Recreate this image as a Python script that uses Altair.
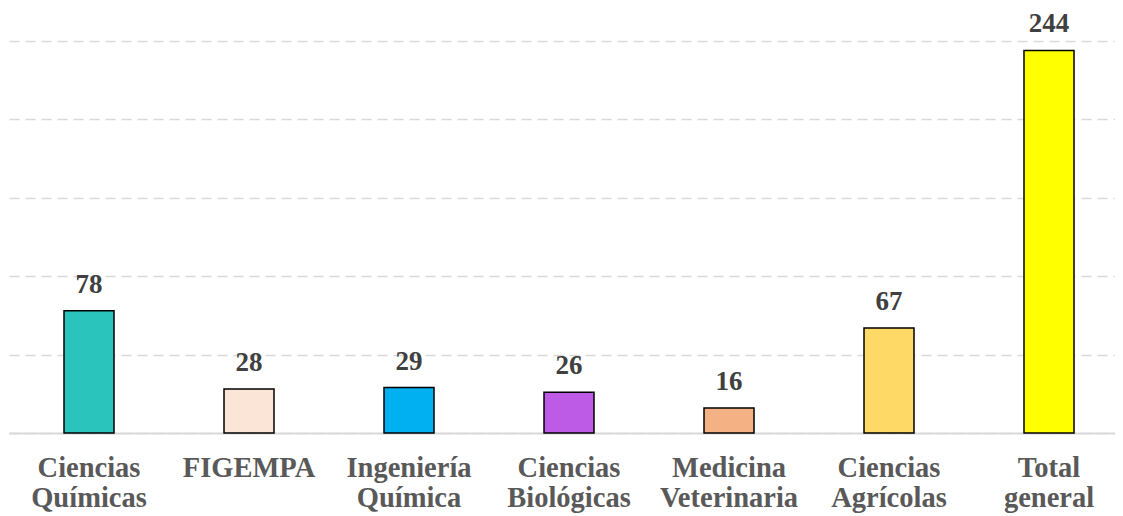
import altair as alt
import pandas as pd

categories = ["Ciencias Químicas", "FIGEMPA", "Ingeniería Química", "Ciencias Biológicas",
              "Medicina Veterinaria", "Ciencias Agrícolas", "Total general"]
values = [78, 28, 29, 26, 16, 67, 244]
colors = ["#2BC4BD", "#FBE5D6", "#00B0F0", "#BE5BE6", "#F4B183", "#FFD966", "#FFFF00"]
grid_values = [0, 50, 100, 150, 200, 250]

df = pd.DataFrame({"cat": categories, "val": values})

FONT = "Liberation Serif"

x = alt.X("cat:N", sort=categories, title=None,
          scale=alt.Scale(range=[0, 1120], paddingInner=0, paddingOuter=0),
          axis=alt.Axis(labelAngle=0, ticks=False, domain=True, domainColor="#d9d9d9",
                        domainWidth=2, labelFont=FONT, labelFontSize=28.5,
                        labelFontWeight="bold", labelColor="#595959",
                        labelPadding=20, labelLineHeight=30, labelLimit=300,
                        labelExpr="split(datum.label, ' ')"))
y = alt.Y("val:Q", title=None,
          scale=alt.Scale(domain=[0, 250], nice=False),
          axis=alt.Axis(labels=False, ticks=False, domain=False, grid=True,
                        values=grid_values,
                        gridColor="#d9d9d9", gridWidth=1.5, gridDash=[10, 6]))

bars = alt.Chart(df).mark_bar(size=50, stroke="black", strokeWidth=1.5).encode(
    x=x, y=y,
    color=alt.Color("cat:N", scale=alt.Scale(domain=categories, range=colors), legend=None),
)

labels = alt.Chart(df).mark_text(font=FONT, fontSize=27, fontWeight="bold",
                                 color="#404040", baseline="alphabetic", dy=-18).encode(
    x=alt.X("cat:N", sort=categories), y="val:Q", text="val:Q"
)

chart = (bars + labels).properties(
    width=1106, height=392,
    autosize=alt.AutoSizeParams(type="none"),
    padding={"left": 1, "top": 33, "right": 0, "bottom": 83},
    background="white",
).configure_view(stroke=None)

chart.save("out.html", embed_options={"renderer": "svg", "actions": False})
